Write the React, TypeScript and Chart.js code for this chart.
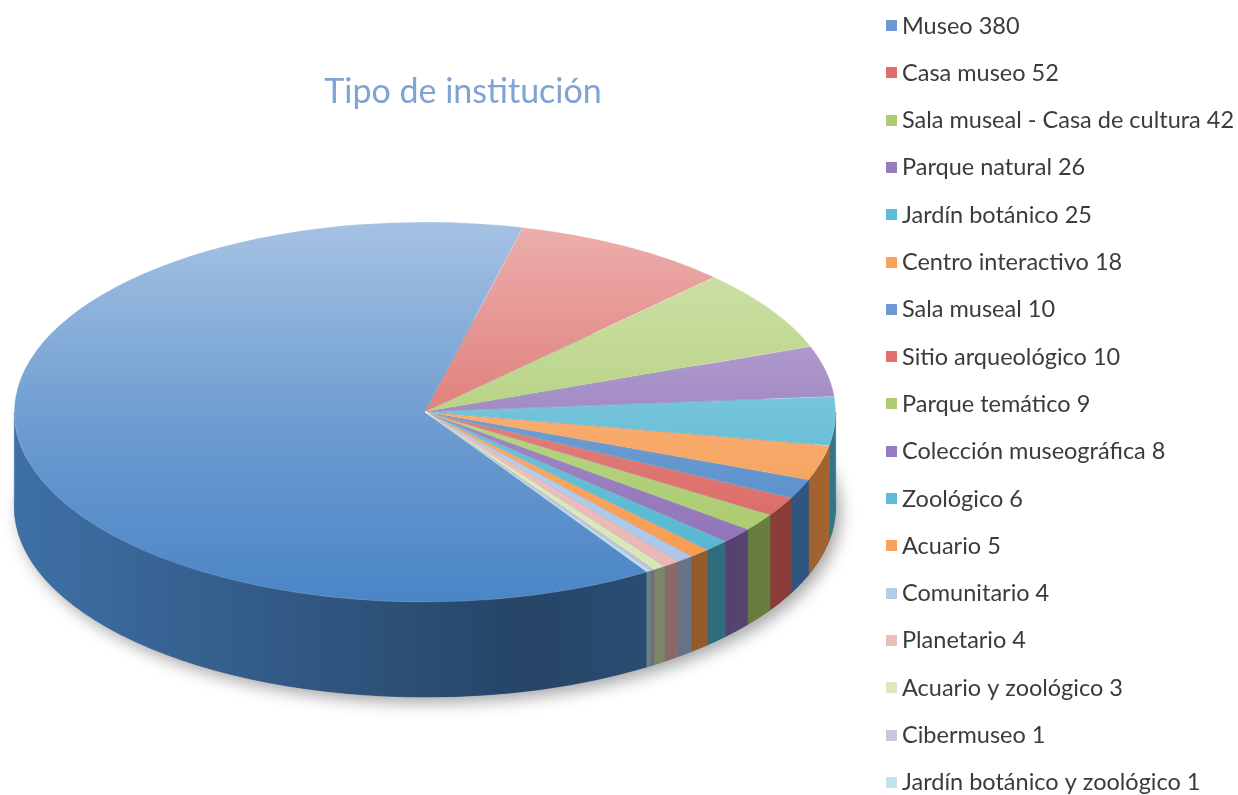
import React, { useEffect, useRef } from 'react';
import { Chart, registerables } from 'chart.js';
Chart.register(...registerables);

const labels = [
  'Museo', 'Casa museo', 'Sala museal - Casa de cultura', 'Parque natural', 'Jardín botánico',
  'Centro interactivo', 'Sala museal', 'Sitio arqueológico', 'Parque temático', 'Colección museográfica',
  'Zoológico', 'Acuario', 'Comunitario', 'Planetario', 'Acuario y zoológico', 'Cibermuseo',
  'Jardín botánico y zoológico',
];
const values = [380, 52, 42, 26, 25, 18, 10, 10, 9, 8, 6, 5, 4, 4, 3, 1, 1];
const sliceColors = [
  '#4A85C6', '#D95F5A', '#A6C865', '#8A6CB4', '#4DB3D0', '#F7974A',
  '#4A85C6', '#D95F5A', '#A6C865', '#8A6CB4', '#4DB3D0', '#F7974A',
  '#A9C3E6', '#EBB3B1', '#D5E6B5', '#C7B9DD', '#B3E0EC',
];
const legendColors = [
  '#6A9AD2', '#DE6F6B', '#ADCD70', '#967BBE', '#5EBDD6', '#F8A15A',
  '#6A9AD2', '#DE6F6B', '#ADCD70', '#967BBE', '#5EBDD6', '#F8A15A',
  '#B4CBE9', '#EDBDBB', '#DCE9C0', '#CFC3E2', '#BFE4EE',
];
const titleText = 'Tipo de institución';

const W = 1238;
const H = 830;
const PIE_CX = 425;
const PIE_R = 411;
const TOP_CY = 412;
const TOP_RY = 190;
const DEPTH = 95;

function hexToRgb(h: string) {
  const n = parseInt(h.slice(1), 16);
  return [(n >> 16) & 255, (n >> 8) & 255, n & 255];
}
function rgb(a: number[]) {
  return `rgb(${a.map((v) => Math.max(0, Math.min(255, Math.round(v)))).join(',')})`;
}
function lighten(h: string, t: number) {
  return rgb(hexToRgb(h).map((v) => v + (255 - v) * t));
}
function shade(h: string, f: number) {
  return rgb(hexToRgb(h).map((v) => v * f));
}

const pie3d = {
  id: 'pie3d',
  beforeDatasetsDraw(chart: any) {
    const meta = chart.getDatasetMeta(0);
    const arcs = meta.data as any[];
    if (!arcs.length) return;
    const a0 = arcs[0];
    const cx = a0.x;
    const cy = a0.y;
    const R = a0.outerRadius;
    const ctx = chart.ctx as CanvasRenderingContext2D;
    ctx.save();
    ctx.save();
    ctx.shadowColor = 'rgba(0,0,0,0.35)';
    ctx.shadowBlur = 16;
    ctx.shadowOffsetX = 5;
    ctx.shadowOffsetY = 6;
    ctx.fillStyle = '#2a4a70';
    ctx.beginPath();
    ctx.ellipse(cx, TOP_CY + DEPTH, R, TOP_RY, 0, 0, Math.PI * 2);
    ctx.fill();
    ctx.restore();
    arcs.forEach((arc: any, i: number) => {
      const s = arc.startAngle;
      const e = arc.endAngle;
      const col = sliceColors[i];
      const g = ctx.createLinearGradient(cx - R, 0, cx + R, 0);
      g.addColorStop(0, shade(col, 0.84));
      g.addColorStop(0.35, shade(col, 0.66));
      g.addColorStop(0.62, shade(col, 0.52));
      g.addColorStop(1, shade(col, 0.66));
      for (let n = -3; n <= 3; n++) {
        const lo = Math.max(s, 2 * Math.PI * n);
        const hi = Math.min(e, 2 * Math.PI * n + Math.PI);
        if (hi > lo) {
          ctx.beginPath();
          ctx.ellipse(cx, TOP_CY, R, TOP_RY, 0, lo, hi, false);
          ctx.ellipse(cx, TOP_CY + DEPTH, R, TOP_RY, 0, hi, lo, true);
          ctx.closePath();
          ctx.fillStyle = g;
          ctx.fill();
          ctx.strokeStyle = g;
          ctx.lineWidth = 0.6;
          ctx.stroke();
        }
      }
    });
    ctx.restore();
    ctx.save();
    ctx.translate(0, TOP_CY);
    ctx.scale(1, TOP_RY / R);
    ctx.translate(0, -cy);
  },
  afterDatasetsDraw(chart: any) {
    const meta = chart.getDatasetMeta(0);
    if (!meta.data.length) return;
    chart.ctx.restore();
  },
};

const textPlugin = {
  id: 'textPlugin',
  afterDraw(chart: any) {
    const ctx = chart.ctx as CanvasRenderingContext2D;
    ctx.save();
    ctx.font = '34px Lato';
    ctx.fillStyle = '#7FA3D5';
    ctx.textAlign = 'center';
    ctx.textBaseline = 'middle';
    ctx.fillText(titleText, 463, 92);
    ctx.font = '23.5px Lato';
    ctx.textAlign = 'left';
    labels.forEach((l, i) => {
      const y = 25 + i * 47.3;
      ctx.fillStyle = legendColors[i];
      ctx.fillRect(886, Math.round(y - 5), 11, 11);
      ctx.fillStyle = '#3b3b3b';
      ctx.fillText(`${l} ${values[i]}`, 902, y + 1);
    });
    ctx.restore();
  },
};

export default function App() {
  const ref = useRef<HTMLCanvasElement | null>(null);
  useEffect(() => {
    if (!ref.current) return;
    const chart = new Chart(ref.current, {
      type: 'pie',
      data: {
        labels,
        datasets: [
          {
            data: values,
            clip: false as any,
            backgroundColor: (c: any) => {
              const i = c.dataIndex;
              if (i === undefined) return '#cccccc';
              const col = sliceColors[i];
              const area = c.chart.chartArea;
              if (!area) return col;
              const g = c.chart.ctx.createLinearGradient(0, area.top, 0, area.bottom);
              g.addColorStop(0, lighten(col, 0.5));
              g.addColorStop(0.55, lighten(col, 0.18));
              g.addColorStop(1, col);
              return g;
            },
            borderColor: 'rgba(255,255,255,0.35)',
            borderWidth: 0.6,
          },
        ],
      },
      options: {
        responsive: false,
        animation: false,
        events: [],
        rotation: 147.3,
        layout: {
          padding: {
            left: PIE_CX - PIE_R,
            right: W - (PIE_CX + PIE_R),
            top: 4,
            bottom: H - 4 - 2 * PIE_R,
          },
        },
        plugins: {
          legend: { display: false },
          title: { display: false },
          tooltip: { enabled: false },
        },
      },
      plugins: [pie3d, textPlugin],
    });
    return () => chart.destroy();
  }, []);
  return (
    <div
      style={{
        position: 'fixed',
        left: 0,
        top: 0,
        width: W,
        height: 795,
        overflow: 'hidden',
        background: '#ffffff',
      }}
    >
      <canvas ref={ref} width={W} height={H} style={{ display: 'block', width: W, height: H }} />
    </div>
  );
}
